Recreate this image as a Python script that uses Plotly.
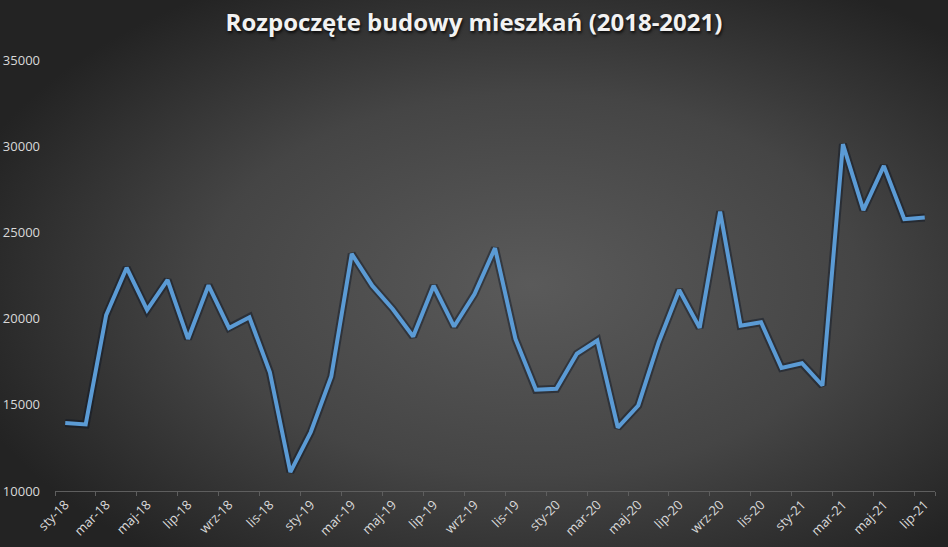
import base64
import plotly.graph_objects as go

months = ["sty", "lut", "mar", "kwi", "maj", "cze", "lip", "sie", "wrz", "paź", "lis", "gru"]
categories = [f"{m}-{y}" for y in ["18", "19", "20", "21"] for m in months][:43]

values = [
    13940, 13860, 20200, 22950, 20500, 22240, 18820, 21930, 19460, 20080, 16890, 11100,
    13420, 16640, 23750, 21910, 20560, 18960, 21910, 19540, 21430, 24090, 18820, 15870,
    15930, 17960, 18730, 13680, 14960, 18630, 21660, 19460, 26210, 19590, 19790, 17140,
    17410, 16120, 30120, 26290, 28860, 25770, 25870,
]

title_text = "Rozpoczęte budowy mieszkań (2018-2021)"

W, H = 948, 547
L, R, T, B = 55, 13, 60, 56
PW, PH = W - L - R, H - T - B
PAD = 6

svg = f"""<svg xmlns='http://www.w3.org/2000/svg' width='{W}' height='{H}'>
<defs><radialGradient id='g' cx='0.56' cy='0.52' r='0.62'>
<stop offset='0' stop-color='#5a5a5a'/>
<stop offset='0.55' stop-color='#454545'/>
<stop offset='1' stop-color='#232323'/>
</radialGradient></defs>
<rect width='{W}' height='{H}' fill='url(#g)'/></svg>"""
src = "data:image/svg+xml;base64," + base64.b64encode(svg.encode()).decode()

fig = go.Figure()
fig.add_trace(go.Scatter(
    x=categories, y=values, mode="lines",
    line=dict(color="rgba(10,20,35,0.45)", width=8),
    hoverinfo="skip", showlegend=False,
))
fig.add_trace(go.Scatter(
    x=categories, y=values, mode="lines",
    line=dict(color="#5b9bd5", width=4),
    showlegend=False,
))

fig.add_layout_image(dict(
    source=src, xref="paper", yref="paper",
    x=-(L + PAD) / PW, y=1 + (T + PAD) / PH,
    sizex=(W + 2 * PAD) / PW, sizey=(H + 2 * PAD) / PH,
    xanchor="left", yanchor="top", sizing="stretch", layer="below",
))

fig.update_layout(
    width=W, height=H,
    margin=dict(l=L, r=R, t=T, b=B),
    paper_bgcolor="#242424", plot_bgcolor="rgba(0,0,0,0)",
    title=dict(
        text=title_text, x=0.5, xref="container", y=1 - 23 / H, yref="container",
        xanchor="center", yanchor="middle",
        font=dict(family="Open Sans", size=24, color="#f2f2f2", weight="bold",
                  shadow="1px 2px 3px rgba(0,0,0,0.8)"),
    ),
    font=dict(family="Open Sans", size=12, color="#d9d9d9"),
)
fig.update_xaxes(
    type="category", range=[-0.5, len(categories) - 0.5],
    tickmode="array", tickvals=categories[::2], ticktext=categories[::2],
    tickangle=-45, showgrid=False, showline=True, linecolor="#5e5e5e", linewidth=1,
    ticks="outside", ticklen=4, tickcolor="#5e5e5e", tickson="boundaries",
    tickfont=dict(size=13, color="#d9d9d9"), zeroline=False, automargin=False,
)
fig.update_yaxes(
    range=[10000, 35000], dtick=5000, tickformat="d", showgrid=False, zeroline=False,
    showline=False, tickfont=dict(size=13, color="#d9d9d9"), ticklabelstandoff=14,
    automargin=False,
)

fig.write_html("out.html", config={"displayModeBar": False},
               post_script="document.body.style.margin='0';document.body.style.overflow='hidden';")
